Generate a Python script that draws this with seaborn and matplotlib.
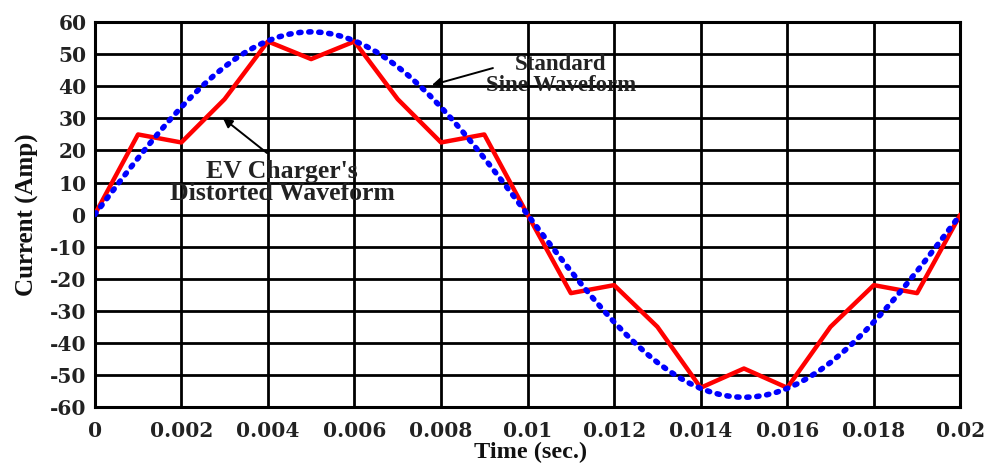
import numpy as np
import pandas as pd
import matplotlib
matplotlib.use("Agg")
import matplotlib.pyplot as plt
import seaborn as sns

# Data
time_s = [0.000, 0.001, 0.002, 0.003, 0.004, 0.005, 0.006, 0.007, 0.008, 0.009, 0.010,
          0.011, 0.012, 0.013, 0.014, 0.015, 0.016, 0.017, 0.018, 0.019, 0.020]
distorted = [0, 25, 22.5, 36, 54, 48.5, 54, 36, 22.5, 25, 0,
             -24.5, -22, -35, -54, -48, -54, -35, -22, -24.5, 0]
sine_amp = 57
sine_freq = 50
sine_t = np.linspace(0, 0.02, 81)
sine_vals = sine_amp * np.sin(2 * np.pi * sine_freq * sine_t)

x_ticks = [0, 0.002, 0.004, 0.006, 0.008, 0.01, 0.012, 0.014, 0.016, 0.018, 0.02]
x_labels = ["0", "0.002", "0.004", "0.006", "0.008", "0.01", "0.012", "0.014", "0.016", "0.018", "0.02"]
y_ticks = list(range(-60, 61, 10))

sns.set_theme(style="white")
plt.rcParams['font.family'] = ['Liberation Serif', 'DejaVu Serif']
plt.rcParams['axes.unicode_minus'] = False

fig = plt.figure(figsize=(9.87, 4.63), dpi=100)
ax = fig.add_axes([0.096, 0.121, 0.877, 0.831])

df_d = pd.DataFrame({"t": time_s, "i": distorted})
df_s = pd.DataFrame({"t": sine_t, "i": sine_vals})

sns.lineplot(data=df_d, x="t", y="i", ax=ax, color="#ff0000", linewidth=3.2, zorder=3)
sns.lineplot(data=df_s, x="t", y="i", ax=ax, color="#0000ff", linewidth=4,
             linestyle=(0, (0.4, 1.4)), dash_capstyle="round", zorder=4)

ax.set_xlim(0, 0.02)
ax.set_ylim(-60, 60)
ax.set_xticks(x_ticks)
ax.set_xticklabels(x_labels)
ax.set_yticks(y_ticks)
ax.grid(True, color="black", linewidth=2)
ax.set_axisbelow(True)
for s in ax.spines.values():
    s.set_color("black")
    s.set_linewidth(2.2)
ax.tick_params(axis="x", length=0, pad=10)
ax.tick_params(axis="y", length=0, pad=6)
for lab in ax.get_xticklabels() + ax.get_yticklabels():
    lab.set_family(['DejaVu Serif'])
    lab.set_fontweight("bold")
    lab.set_fontsize(14.5)
    lab.set_color("#222222")

ax.set_xlabel("Time (sec.)", fontsize=17.5, fontweight="bold", color="#111111")
ax.set_ylabel("Current (Amp)", fontsize=18, fontweight="bold", color="#111111")
ax.xaxis.set_label_coords(0.504, -0.092)
ax.yaxis.set_label_coords(-0.064, 0.5)

ax.text(0.01077, 43.5, "Standard\nSine Waveform", ha="center", va="center",
        fontsize=16.5, fontweight="bold", color="#222222", linespacing=1.0, zorder=5)
ax.annotate("", xy=(0.00779, 40.4), xytext=(0.0092, 45.7),
            arrowprops=dict(arrowstyle="-|>", color="black", lw=1.4, shrinkA=0, shrinkB=0,
                            mutation_scale=14))
ax.text(0.00433, 10.0, "EV Charger's\nDistorted Waveform", ha="center", va="center",
        fontsize=18.5, fontweight="bold", color="#222222", linespacing=0.95, zorder=5)
ax.annotate("", xy=(0.00296, 30.1), xytext=(0.00398, 19.2),
            arrowprops=dict(arrowstyle="-|>", color="black", lw=1.4, shrinkA=0, shrinkB=0,
                            mutation_scale=14))

fig.savefig("out.png", dpi=100)
